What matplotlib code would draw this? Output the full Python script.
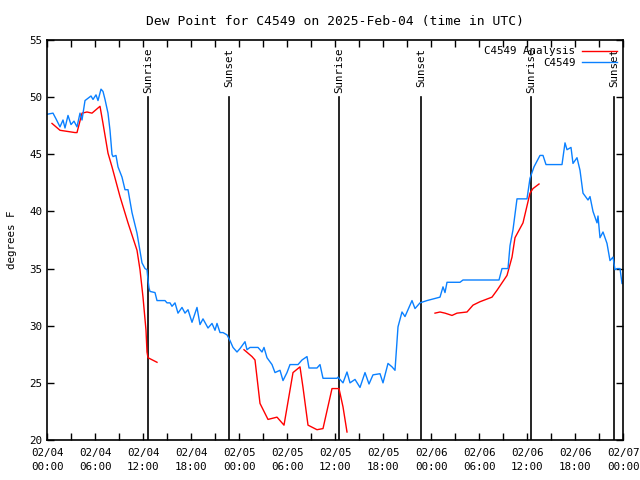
import numpy as np
import matplotlib
matplotlib.use("Agg")
import matplotlib.pyplot as plt
from matplotlib.ticker import MultipleLocator

# hours since 2025-02-04 00:00 UTC
obs_hours = [0, 0.75, 1.125, 1.625, 2, 2.25, 2.625, 3, 3.375, 3.75, 4.125, 4.375, 4.75, 5.125,
             5.5, 5.75, 6.125, 6.375, 6.75, 7, 7.25, 7.625, 7.875, 8.125, 8.25, 8.625, 8.875,
             9.375, 9.75, 10.125, 10.375, 10.625, 11.25, 11.875, 12.25, 12.5, 12.625, 12.75,
             12.875, 13.5, 13.75, 14.75, 15, 15.375, 15.625, 16, 16.375, 16.875, 17.25, 17.625,
             18.125, 18.75, 19.125, 19.5, 20.125, 20.625, 21, 21.25, 21.625, 22, 22.5, 22.875,
             23.25, 23.75, 24.125, 24.75, 25, 25.375, 26.375, 26.875, 27.125, 27.5, 28.125,
             28.5, 29.125, 29.5, 30, 30.375, 31.375, 31.875, 32.5, 32.75, 33.75, 34.125, 34.5,
             36.25, 36.375, 37, 37.5, 37.875, 38.5, 39.125, 39.75, 40.25, 40.75, 41.625, 42,
             42.625, 43.125, 43.5, 43.875, 44.375, 44.75, 45.125, 45.625, 46, 46.625, 47.5,
             49.125, 49.5, 49.75, 50, 51.625, 52, 56.5, 56.875, 57.625, 57.875, 58.25, 58.75,
             60, 60.375, 60.875, 61.625, 62, 62.375, 64.375, 64.75, 65, 65.5, 65.75, 66.25,
             66.625, 67, 67.625, 67.875, 68.25, 68.75, 68.875, 69.125, 69.5, 70, 70.375, 70.75,
             71, 71.25, 71.625, 71.875]
obs_dewpt = [48.5, 48.6, 48.1, 47.4, 48.0, 47.3, 48.4, 47.6, 47.9, 47.4, 48.6, 48.0, 49.7, 49.9,
             50.1, 49.8, 50.2, 49.7, 50.7, 50.5, 49.8, 48.6, 47.1, 45.0, 44.8, 44.9, 43.9,
             43.0, 41.9, 41.9, 40.9, 39.9, 38.1, 35.5, 35.0, 34.9, 34.0, 33.3,
             33.0, 32.9, 32.2, 32.2, 32.0, 32.0, 31.7, 32.0, 31.1, 31.6, 31.1, 31.4,
             30.3, 31.6, 30.1, 30.6, 29.8, 30.2, 29.6, 30.2, 29.4, 29.4, 29.2, 28.7,
             28.1, 27.7, 28.0, 28.6, 27.9, 28.1, 28.1, 27.7, 28.1, 27.2, 26.6,
             25.9, 26.1, 25.2, 25.9, 26.6, 26.6, 27.0, 27.3, 26.3, 26.3, 26.6, 25.4,
             25.4, 25.5, 25.0, 25.95, 25.0, 25.3, 24.6, 25.9, 24.9, 25.7, 25.8, 25.0,
             26.7, 26.4, 26.1, 29.9, 31.2, 30.8, 31.4, 32.2, 31.5, 32.0, 32.2,
             32.5, 33.4, 32.9, 33.8, 33.8, 34.0, 34.0, 35.0, 35.0, 37.0, 38.4, 41.1,
             41.1, 42.9, 43.9, 44.9, 44.9, 44.1, 44.1, 46.0, 45.4, 45.6, 44.2, 44.7,
             43.6, 41.6, 41.0, 41.3, 40.0, 39.0, 39.6, 37.7, 38.2, 37.2, 35.7, 36.0,
             34.9, 35.0, 35.0, 33.7]

ana_hours = [0.625, 1.625, 3.5, 3.75, 4.375, 5, 5.625, 6.625, 7, 7.625, 8.125, 9.125, 10.125,
             11.25, 11.625, 12.0, 12.375, 12.5, 12.625, 13.75, 19,
             24.625, 25.625, 26.0, 26.625, 27.625, 28.75, 29.625, 30.75, 31.625, 32.0, 32.625,
             33.75, 34.5, 35.625, 36.5, 37.0, 37.5, 43,
             48.5, 49.125, 49.75, 50.625, 51.25, 52.5, 53.25, 54.125, 55.625, 56.25, 57.5,
             58.125, 58.5, 59.5, 60.375, 60.75, 61.5]
ana_dewpt = [47.7, 47.1, 46.9, 46.9, 48.6, 48.7, 48.6, 49.2, 47.7, 45.1, 43.9, 41.3, 39.0,
             36.6, 34.9, 32.5, 29.6, 27.7, 27.2, 26.8, np.nan,
             27.9, 27.3, 27.0, 23.2, 21.8, 22.0, 21.3, 25.9, 26.4, 24.6, 21.3,
             20.9, 21.0, 24.5, 24.5, 22.9, 20.7, np.nan,
             31.1, 31.2, 31.1, 30.9, 31.1, 31.2, 31.8, 32.1, 32.5, 33.1, 34.4,
             36.0, 37.7, 39.0, 41.6, 42.0, 42.4]

sun_hours = [12.625, 22.75, 36.5, 46.75, 60.5, 70.875]
sun_labels = ["Sunrise", "Sunset", "Sunrise", "Sunset", "Sunrise", "Sunset"]

plt.rcParams['font.family'] = 'DejaVu Sans Mono'
plt.rcParams['font.size'] = 7.8

fig = plt.figure(figsize=(6.4, 4.8), dpi=100)
ax = fig.add_axes([47 / 640, 40 / 480, 576 / 640, 400 / 480])

for h, lab in zip(sun_hours, sun_labels):
    ax.axvline(h, ymin=0, ymax=0.857, color='black', lw=1.2)
    ax.text(h, 0.98, lab, rotation=90, ha='center', va='top',
            transform=ax.get_xaxis_transform())

ax.plot(ana_hours, ana_dewpt, color='#ff0000', lw=1, label='C4549 Analysis')
ax.plot(obs_hours, obs_dewpt, color='#0a80ff', lw=1, label='C4549')

ax.set_xlim(0, 72)
ax.set_ylim(20, 55)
ax.xaxis.set_major_locator(MultipleLocator(6))
ax.xaxis.set_minor_locator(MultipleLocator(3))
ax.yaxis.set_major_locator(MultipleLocator(5))
ticks = np.arange(0, 73, 6)
ax.set_xticks(ticks)
ax.set_xticklabels(["02/%02d\n%02d:00" % (4 + t // 24, t % 24) for t in ticks],
                   linespacing=1.5)
ax.tick_params(which='both', direction='in', top=True, right=True, length=5, width=1)
ax.tick_params(axis='x', pad=6)
for s in ax.spines.values():
    s.set_linewidth(1.2)

ax.set_ylabel("degrees F", labelpad=9)
ax.set_title("Dew Point for C4549 on 2025-Feb-04 (time in UTC)", pad=11)
ax.legend(loc='upper right', frameon=False, markerfirst=False, handlelength=3.2,
          borderaxespad=0.2, labelspacing=0.1, handletextpad=0.6)

fig.savefig("out.png", dpi=100)
